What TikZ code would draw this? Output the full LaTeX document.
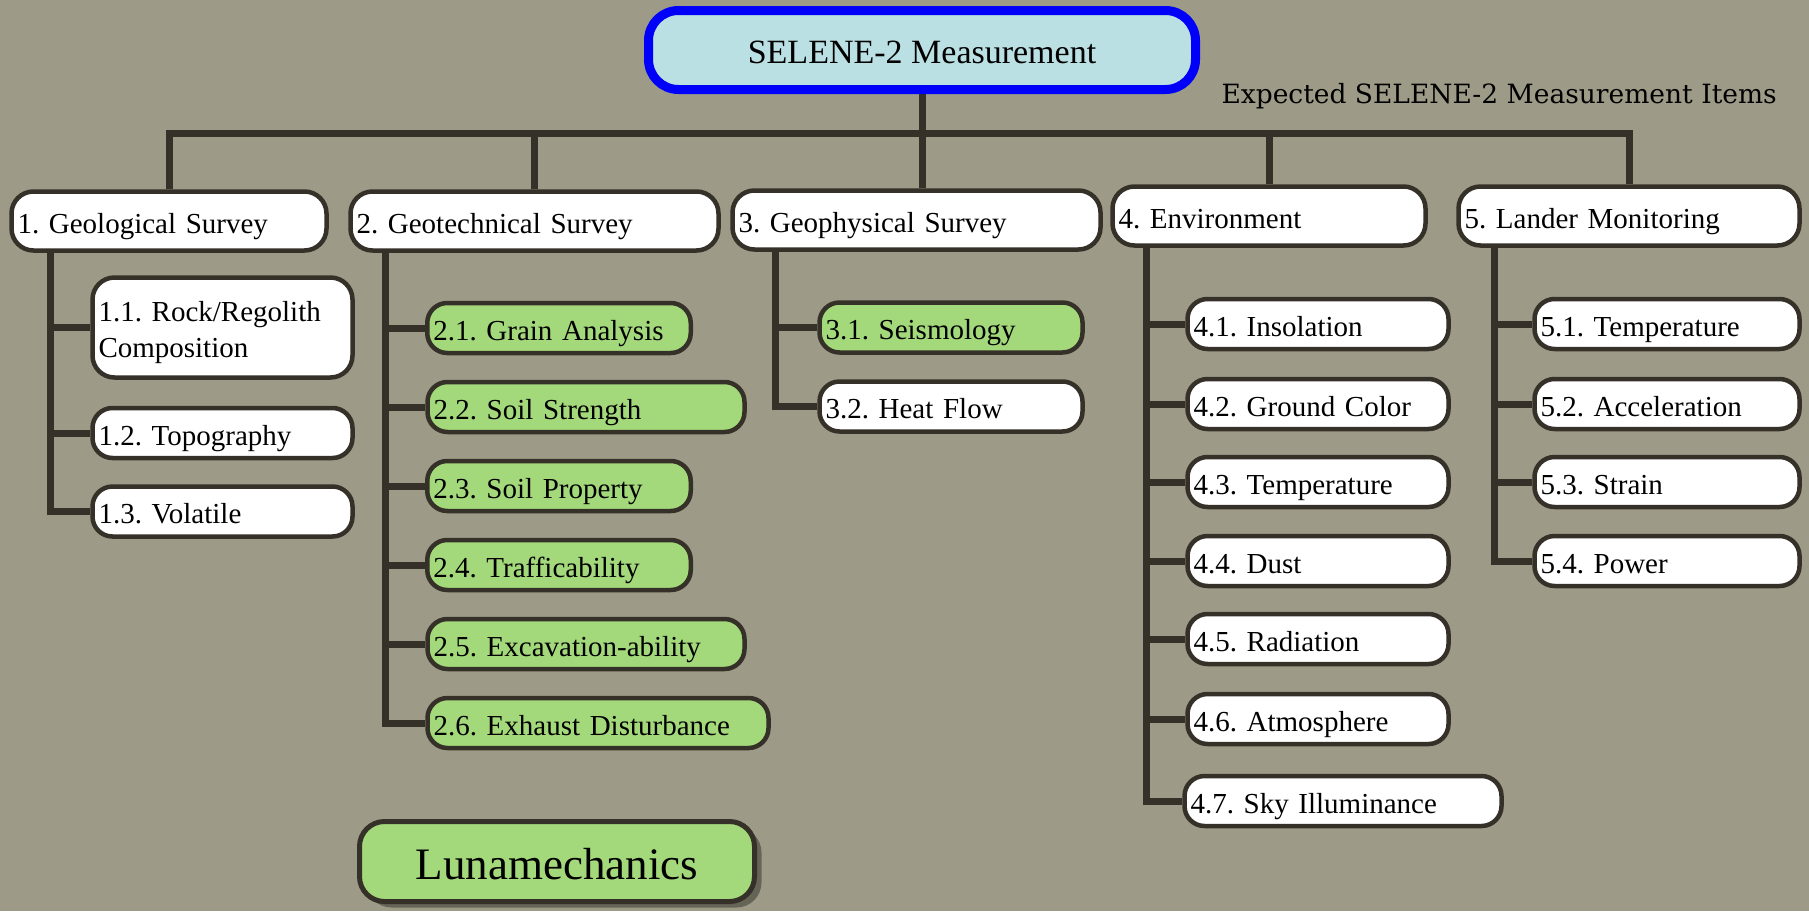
\documentclass[tikz,border=0pt]{standalone}
\usepackage{fontspec}
\setmainfont{Liberation Serif}
\newfontfamily\labelfont{DejaVu Serif}
\usetikzlibrary{shadows}
\pgfdeclarelayer{bg}
\pgfdeclarelayer{background}
\pgfsetlayers{bg,background,main}
\definecolor{bgc}{RGB}{157,155,135}
\definecolor{linec}{RGB}{53,48,40}
\definecolor{greenc}{RGB}{163,217,123}
\definecolor{rootc}{RGB}{186,224,228}
\definecolor{bluec}{RGB}{0,0,250}
\frenchspacing
\tikzset{
  box/.style={draw=linec, line width=4.5pt, fill=white, rounded corners=20pt,
    inner xsep=6pt, inner ysep=0pt, align=left,
    font=\fontsize{29}{36}\selectfont, text height=24pt, text depth=0pt,
    minimum height=50pt},
  topbox/.style={box, minimum height=59pt, rounded corners=22pt},
  grn/.style={fill=greenc},
  conn/.style={draw=linec, line width=7pt, line join=miter},
}
\begin{document}
\frenchspacing
\begin{tikzpicture}[x=1pt,y=-1pt]
\begin{pgfonlayer}{bg}
\fill[bgc] (0,0) rectangle (1809,911);
\end{pgfonlayer}
\useasboundingbox (0,0) rectangle (1809,911);

% root
\node[draw=bluec, line width=9pt, fill=rootc, rounded corners=30pt,
  minimum width=547pt, minimum height=79pt, inner sep=0pt,
  font=\fontsize{34}{40}\selectfont, text height=27.5pt, text depth=0pt]
  (root) at (922,50) {SELENE-2 Measurement};
\node[anchor=base east, inner sep=0pt, font=\labelfont\fontsize{26.5}{30}\selectfont]
  (lbl) at (1777,103) {Expected SELENE-2 Measurement Items};

% level 1
\node[topbox, text width=303pt] (n1) at (169,221) {1. Geological Survey};
\node[topbox, text width=356pt] (n2) at (534.5,221) {2. Geotechnical Survey};
\node[topbox, text width=356pt] (n3) at (916.5,220) {3. Geophysical Survey};
\node[topbox, text width=301pt] (n4) at (1269,216) {4. Environment};
\node[topbox, text width=329pt] (n5) at (1629,216) {5. Lander Monitoring};

% group 1
\node[box, text width=248pt, minimum height=100pt, text depth=36pt, rounded corners=22pt]
  (c11) at (222.5,327.5) {1.1. Rock/Regolith\\Composition};
\node[box, text width=248pt] (c12) at (222.5,433) {1.2. Topography};
\node[box, text width=248pt] (c13) at (222.5,511.5) {1.3. Volatile};

% group 2
\node[box, grn, text width=251.5pt] (c21) at (559,328) {2.1. Grain Analysis};
\node[box, grn, text width=305pt] (c22) at (586,407) {2.2. Soil Strength};
\node[box, grn, text width=251.5pt] (c23) at (559,486) {2.3. Soil Property};
\node[box, grn, text width=251.5pt] (c24) at (559,565) {2.4. Trafficability};
\node[box, grn, text width=305pt] (c25) at (586,644) {2.5. Excavation-ability};
\node[box, grn, text width=329pt] (c26) at (598,723) {2.6. Exhaust Disturbance};

% group 3
\node[box, grn, text width=251pt] (c31) at (951,327.5) {3.1. Seismology};
\node[box, text width=251pt] (c32) at (951,406.5) {3.2. Heat Flow};

% group 4
\node[box, text width=249pt] (c41) at (1318,324) {4.1. Insolation};
\node[box, text width=249pt] (c42) at (1318,404) {4.2. Ground Color};
\node[box, text width=249pt] (c43) at (1318,482) {4.3. Temperature};
\node[box, text width=249pt] (c44) at (1318,561) {4.4. Dust};
\node[box, text width=249pt] (c45) at (1318,639) {4.5. Radiation};
\node[box, text width=249pt] (c46) at (1318,719) {4.6. Atmosphere};
\node[box, text width=305pt] (c47) at (1343,801) {4.7. Sky Illuminance};

% group 5
\node[box, text width=253pt] (c51) at (1667,324) {5.1. Temperature};
\node[box, text width=253pt] (c52) at (1667,404) {5.2. Acceleration};
\node[box, text width=253pt] (c53) at (1667,482) {5.3. Strain};
\node[box, text width=253pt] (c54) at (1667,561) {5.4. Power};

% legend
\node[draw=linec, line width=5pt, fill=greenc, rounded corners=25pt,
  minimum width=395pt, minimum height=80pt, inner sep=0pt,
  font=\fontsize{45}{50}\selectfont, text height=35pt, text depth=0pt,
  drop shadow={shadow xshift=7pt, shadow yshift=-6pt, fill=black, opacity=0.35}]
  (luna) at (557,861.5) {Lunamechanics};

% connectors
\coordinate (bar) at (0,133);
\coordinate (g1) at (50,0);
\coordinate (g2) at (385,0);
\coordinate (g3) at (775,0);
\coordinate (g4) at (1146,0);
\coordinate (g5) at (1494,0);
\begin{pgfonlayer}{background}
\draw[conn] (root.south) -- (root.south |- n3.north);
\draw[conn] (n1.north) -- (n1.north |- bar) -- (n5.north |- bar) -- (n5.north);
\draw[conn] (n2.north) -- (n2.north |- bar);
\draw[conn] (n4.north) -- (n4.north |- bar);
% group 1
\draw[conn] (n1.south -| g1) -- (g1 |- c13.west) -- (c13.west);
\draw[conn] (g1 |- c11.west) -- (c11.west);
\draw[conn] (g1 |- c12.west) -- (c12.west);
% group 2
\draw[conn] (n2.south -| g2) -- (g2 |- c26.west) -- (c26.west);
\foreach \c in {c21,c22,c23,c24,c25}{\draw[conn] (g2 |- \c.west) -- (\c.west);}
% group 3
\draw[conn] (n3.south -| g3) -- (g3 |- c32.west) -- (c32.west);
\draw[conn] (g3 |- c31.west) -- (c31.west);
% group 4
\draw[conn] (n4.south -| g4) -- (g4 |- c47.west) -- (c47.west);
\foreach \c in {c41,c42,c43,c44,c45,c46}{\draw[conn] (g4 |- \c.west) -- (\c.west);}
% group 5
\draw[conn] (n5.south -| g5) -- (g5 |- c54.west) -- (c54.west);
\foreach \c in {c51,c52,c53}{\draw[conn] (g5 |- \c.west) -- (\c.west);}
\end{pgfonlayer}
\end{tikzpicture}
\end{document}
